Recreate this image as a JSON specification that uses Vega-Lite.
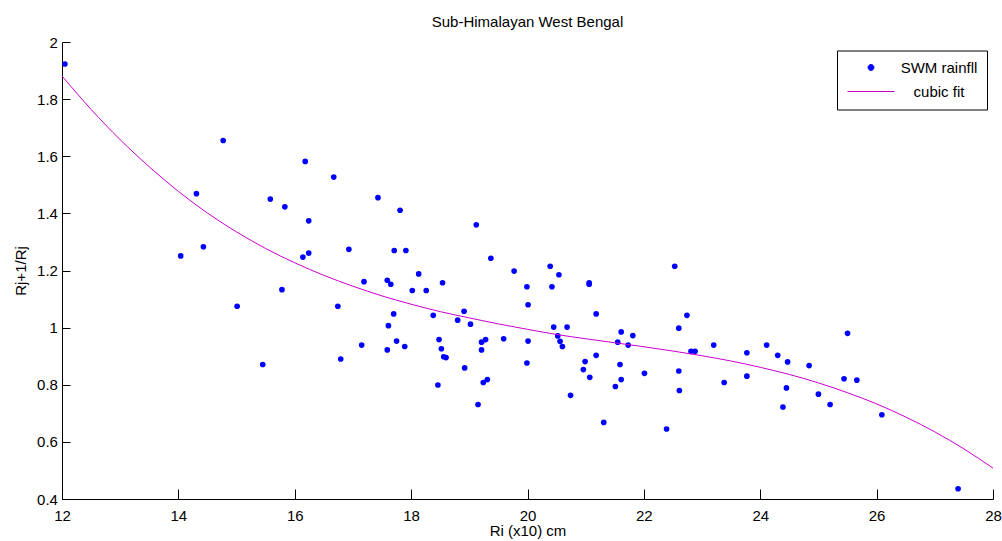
{
  "$schema": "https://vega.github.io/schema/vega-lite/v6.json",
  "width": 931,
  "height": 457,
  "autosize": {"type": "none"},
  "padding": {"left": 62, "top": 42, "right": 9, "bottom": 42},
  "background": "white",
  "config": {
    "font": "Liberation Sans",
    "view": {"stroke": null},
    "axis": {"grid": false, "domainColor": "black", "tickColor": "black", "labelColor": "black", "titleColor": "black", "labelFontSize": 15, "titleFontSize": 15, "titleFontWeight": "normal", "labelFlush": false, "labelOverlap": false, "domainWidth": 1, "tickWidth": 1}
  },
  "title": {"text": "Sub-Himalayan West Bengal", "fontSize": 15, "fontWeight": "normal", "color": "black", "offset": -7, "baseline": "alphabetic", "anchor": "middle", "frame": "group"},
  "datasets": {
    "obs": [
      {"Ri": 12.05, "R": 1.923, "series": "SWM rainfll"},
      {"Ri": 14.04, "R": 1.251, "series": "SWM rainfll"},
      {"Ri": 14.31, "R": 1.469, "series": "SWM rainfll"},
      {"Ri": 14.43, "R": 1.283, "series": "SWM rainfll"},
      {"Ri": 14.77, "R": 1.655, "series": "SWM rainfll"},
      {"Ri": 15.01, "R": 1.075, "series": "SWM rainfll"},
      {"Ri": 15.45, "R": 0.871, "series": "SWM rainfll"},
      {"Ri": 15.58, "R": 1.450, "series": "SWM rainfll"},
      {"Ri": 15.78, "R": 1.133, "series": "SWM rainfll"},
      {"Ri": 15.83, "R": 1.423, "series": "SWM rainfll"},
      {"Ri": 16.14, "R": 1.247, "series": "SWM rainfll"},
      {"Ri": 16.18, "R": 1.582, "series": "SWM rainfll"},
      {"Ri": 16.24, "R": 1.374, "series": "SWM rainfll"},
      {"Ri": 16.24, "R": 1.261, "series": "SWM rainfll"},
      {"Ri": 16.67, "R": 1.527, "series": "SWM rainfll"},
      {"Ri": 16.74, "R": 1.075, "series": "SWM rainfll"},
      {"Ri": 16.79, "R": 0.890, "series": "SWM rainfll"},
      {"Ri": 16.93, "R": 1.274, "series": "SWM rainfll"},
      {"Ri": 17.15, "R": 0.939, "series": "SWM rainfll"},
      {"Ri": 17.19, "R": 1.161, "series": "SWM rainfll"},
      {"Ri": 17.43, "R": 1.455, "series": "SWM rainfll"},
      {"Ri": 17.59, "R": 1.166, "series": "SWM rainfll"},
      {"Ri": 17.59, "R": 0.922, "series": "SWM rainfll"},
      {"Ri": 17.61, "R": 1.007, "series": "SWM rainfll"},
      {"Ri": 17.65, "R": 1.152, "series": "SWM rainfll"},
      {"Ri": 17.70, "R": 1.048, "series": "SWM rainfll"},
      {"Ri": 17.71, "R": 1.270, "series": "SWM rainfll"},
      {"Ri": 17.75, "R": 0.953, "series": "SWM rainfll"},
      {"Ri": 17.81, "R": 1.411, "series": "SWM rainfll"},
      {"Ri": 17.89, "R": 0.934, "series": "SWM rainfll"},
      {"Ri": 17.91, "R": 1.270, "series": "SWM rainfll"},
      {"Ri": 18.02, "R": 1.130, "series": "SWM rainfll"},
      {"Ri": 18.13, "R": 1.188, "series": "SWM rainfll"},
      {"Ri": 18.26, "R": 1.130, "series": "SWM rainfll"},
      {"Ri": 18.38, "R": 1.043, "series": "SWM rainfll"},
      {"Ri": 18.46, "R": 0.799, "series": "SWM rainfll"},
      {"Ri": 18.48, "R": 0.958, "series": "SWM rainfll"},
      {"Ri": 18.52, "R": 0.926, "series": "SWM rainfll"},
      {"Ri": 18.54, "R": 1.157, "series": "SWM rainfll"},
      {"Ri": 18.56, "R": 0.898, "series": "SWM rainfll"},
      {"Ri": 18.60, "R": 0.895, "series": "SWM rainfll"},
      {"Ri": 18.80, "R": 1.026, "series": "SWM rainfll"},
      {"Ri": 18.91, "R": 1.057, "series": "SWM rainfll"},
      {"Ri": 18.92, "R": 0.859, "series": "SWM rainfll"},
      {"Ri": 19.02, "R": 1.012, "series": "SWM rainfll"},
      {"Ri": 19.12, "R": 1.360, "series": "SWM rainfll"},
      {"Ri": 19.15, "R": 0.731, "series": "SWM rainfll"},
      {"Ri": 19.21, "R": 0.949, "series": "SWM rainfll"},
      {"Ri": 19.21, "R": 0.922, "series": "SWM rainfll"},
      {"Ri": 19.24, "R": 0.808, "series": "SWM rainfll"},
      {"Ri": 19.28, "R": 0.958, "series": "SWM rainfll"},
      {"Ri": 19.31, "R": 0.818, "series": "SWM rainfll"},
      {"Ri": 19.37, "R": 1.243, "series": "SWM rainfll"},
      {"Ri": 19.59, "R": 0.961, "series": "SWM rainfll"},
      {"Ri": 19.77, "R": 1.198, "series": "SWM rainfll"},
      {"Ri": 19.99, "R": 1.143, "series": "SWM rainfll"},
      {"Ri": 19.99, "R": 0.876, "series": "SWM rainfll"},
      {"Ri": 20.01, "R": 1.080, "series": "SWM rainfll"},
      {"Ri": 20.01, "R": 0.953, "series": "SWM rainfll"},
      {"Ri": 20.39, "R": 1.215, "series": "SWM rainfll"},
      {"Ri": 20.42, "R": 1.143, "series": "SWM rainfll"},
      {"Ri": 20.45, "R": 1.002, "series": "SWM rainfll"},
      {"Ri": 20.52, "R": 0.971, "series": "SWM rainfll"},
      {"Ri": 20.54, "R": 1.185, "series": "SWM rainfll"},
      {"Ri": 20.56, "R": 0.952, "series": "SWM rainfll"},
      {"Ri": 20.60, "R": 0.934, "series": "SWM rainfll"},
      {"Ri": 20.68, "R": 1.002, "series": "SWM rainfll"},
      {"Ri": 20.74, "R": 0.763, "series": "SWM rainfll"},
      {"Ri": 20.96, "R": 0.853, "series": "SWM rainfll"},
      {"Ri": 20.99, "R": 0.881, "series": "SWM rainfll"},
      {"Ri": 21.06, "R": 1.157, "series": "SWM rainfll"},
      {"Ri": 21.06, "R": 1.152, "series": "SWM rainfll"},
      {"Ri": 21.07, "R": 0.826, "series": "SWM rainfll"},
      {"Ri": 21.18, "R": 1.048, "series": "SWM rainfll"},
      {"Ri": 21.18, "R": 0.903, "series": "SWM rainfll"},
      {"Ri": 21.31, "R": 0.668, "series": "SWM rainfll"},
      {"Ri": 21.51, "R": 0.794, "series": "SWM rainfll"},
      {"Ri": 21.55, "R": 0.949, "series": "SWM rainfll"},
      {"Ri": 21.59, "R": 0.871, "series": "SWM rainfll"},
      {"Ri": 21.61, "R": 0.985, "series": "SWM rainfll"},
      {"Ri": 21.61, "R": 0.818, "series": "SWM rainfll"},
      {"Ri": 21.73, "R": 0.939, "series": "SWM rainfll"},
      {"Ri": 21.81, "R": 0.972, "series": "SWM rainfll"},
      {"Ri": 22.01, "R": 0.840, "series": "SWM rainfll"},
      {"Ri": 22.39, "R": 0.645, "series": "SWM rainfll"},
      {"Ri": 22.53, "R": 1.215, "series": "SWM rainfll"},
      {"Ri": 22.60, "R": 0.998, "series": "SWM rainfll"},
      {"Ri": 22.60, "R": 0.848, "series": "SWM rainfll"},
      {"Ri": 22.61, "R": 0.780, "series": "SWM rainfll"},
      {"Ri": 22.74, "R": 1.043, "series": "SWM rainfll"},
      {"Ri": 22.81, "R": 0.917, "series": "SWM rainfll"},
      {"Ri": 22.88, "R": 0.917, "series": "SWM rainfll"},
      {"Ri": 23.20, "R": 0.939, "series": "SWM rainfll"},
      {"Ri": 23.38, "R": 0.808, "series": "SWM rainfll"},
      {"Ri": 23.77, "R": 0.912, "series": "SWM rainfll"},
      {"Ri": 23.77, "R": 0.830, "series": "SWM rainfll"},
      {"Ri": 24.11, "R": 0.939, "series": "SWM rainfll"},
      {"Ri": 24.30, "R": 0.903, "series": "SWM rainfll"},
      {"Ri": 24.39, "R": 0.722, "series": "SWM rainfll"},
      {"Ri": 24.45, "R": 0.789, "series": "SWM rainfll"},
      {"Ri": 24.47, "R": 0.880, "series": "SWM rainfll"},
      {"Ri": 24.84, "R": 0.867, "series": "SWM rainfll"},
      {"Ri": 25.00, "R": 0.767, "series": "SWM rainfll"},
      {"Ri": 25.20, "R": 0.731, "series": "SWM rainfll"},
      {"Ri": 25.44, "R": 0.821, "series": "SWM rainfll"},
      {"Ri": 25.50, "R": 0.980, "series": "SWM rainfll"},
      {"Ri": 25.66, "R": 0.816, "series": "SWM rainfll"},
      {"Ri": 26.09, "R": 0.695, "series": "SWM rainfll"},
      {"Ri": 27.40, "R": 0.436, "series": "SWM rainfll"}
    ],
    "fit": [
      {"Ri": 12.0, "R": 1.881, "series": "cubic fit"},
      {"Ri": 12.5, "R": 1.764, "series": "cubic fit"},
      {"Ri": 13.0, "R": 1.658, "series": "cubic fit"},
      {"Ri": 13.5, "R": 1.563, "series": "cubic fit"},
      {"Ri": 14.0, "R": 1.477, "series": "cubic fit"},
      {"Ri": 14.5, "R": 1.401, "series": "cubic fit"},
      {"Ri": 15.0, "R": 1.335, "series": "cubic fit"},
      {"Ri": 15.5, "R": 1.277, "series": "cubic fit"},
      {"Ri": 16.0, "R": 1.227, "series": "cubic fit"},
      {"Ri": 16.5, "R": 1.183, "series": "cubic fit"},
      {"Ri": 17.0, "R": 1.145, "series": "cubic fit"},
      {"Ri": 17.5, "R": 1.111, "series": "cubic fit"},
      {"Ri": 18.0, "R": 1.082, "series": "cubic fit"},
      {"Ri": 18.5, "R": 1.056, "series": "cubic fit"},
      {"Ri": 19.0, "R": 1.034, "series": "cubic fit"},
      {"Ri": 19.5, "R": 1.013, "series": "cubic fit"},
      {"Ri": 20.0, "R": 0.994, "series": "cubic fit"},
      {"Ri": 20.5, "R": 0.976, "series": "cubic fit"},
      {"Ri": 21.0, "R": 0.961, "series": "cubic fit"},
      {"Ri": 21.5, "R": 0.947, "series": "cubic fit"},
      {"Ri": 22.0, "R": 0.933, "series": "cubic fit"},
      {"Ri": 22.5, "R": 0.918, "series": "cubic fit"},
      {"Ri": 23.0, "R": 0.9015, "series": "cubic fit"},
      {"Ri": 23.5, "R": 0.883, "series": "cubic fit"},
      {"Ri": 24.0, "R": 0.861, "series": "cubic fit"},
      {"Ri": 24.5, "R": 0.836, "series": "cubic fit"},
      {"Ri": 25.0, "R": 0.8065, "series": "cubic fit"},
      {"Ri": 25.5, "R": 0.772, "series": "cubic fit"},
      {"Ri": 26.0, "R": 0.733, "series": "cubic fit"},
      {"Ri": 26.5, "R": 0.687, "series": "cubic fit"},
      {"Ri": 27.0, "R": 0.635, "series": "cubic fit"},
      {"Ri": 27.5, "R": 0.5755, "series": "cubic fit"},
      {"Ri": 28.0, "R": 0.508, "series": "cubic fit"}
    ]
  },
  "encoding": {
    "x": {"field": "Ri", "type": "quantitative",
      "scale": {"domain": [12, 28], "nice": false, "zero": false},
      "axis": {"title": "Ri (x10) cm", "values": [12, 14, 16, 18, 20, 22, 24, 26, 28], "format": "~g", "tickSize": -10, "labelPadding": 19, "titlePadding": 0}},
    "y": {"field": "R", "type": "quantitative",
      "scale": {"domain": [0.4, 2], "nice": false, "zero": false},
      "axis": {"title": "Rj+1/Rj", "values": [0.4, 0.6, 0.8, 1, 1.2, 1.4, 1.6, 1.8, 2], "format": "~g", "tickSize": -8, "labelPadding": 12.6, "titlePadding": 8}},
    "color": {"field": "series", "type": "nominal",
      "scale": {"domain": ["SWM rainfll", "cubic fit"], "range": ["#0000ff", "#cc00cc"]},
      "legend": {
        "title": null, "orient": "none", "legendX": 775, "legendY": 8.5, "direction": "vertical",
        "padding": 9.5, "rowPadding": 8, "strokeColor": "black", "fillColor": "white",
        "symbolSize": 138, "symbolOffset": 17, "labelOffset": 60.5, "labelAlign": "center",
        "labelFontSize": 15, "labelColor": "black",
        "encode": {"symbols": {"update": {
          "shape": {"signal": "datum.value == 'cubic fit' ? 'M-4,0H4' : 'M-0.5,0A0.5,0.5 0 1,0 0.5,0A0.5,0.5 0 1,0 -0.5,0Z'"},
          "fill": {"signal": "datum.value == 'cubic fit' ? 'transparent' : '#0000ff'"},
          "stroke": {"signal": "datum.value == 'cubic fit' ? '#cc00cc' : 'transparent'"},
          "strokeWidth": {"value": 1},
          "opacity": {"value": 1}
        }}}
      }}
  },
  "layer": [
    {"data": {"name": "obs"}, "mark": {"type": "circle", "size": 32, "opacity": 1}},
    {"data": {"name": "fit"}, "mark": {"type": "line", "strokeWidth": 1, "interpolate": "monotone"}}
  ]
}
